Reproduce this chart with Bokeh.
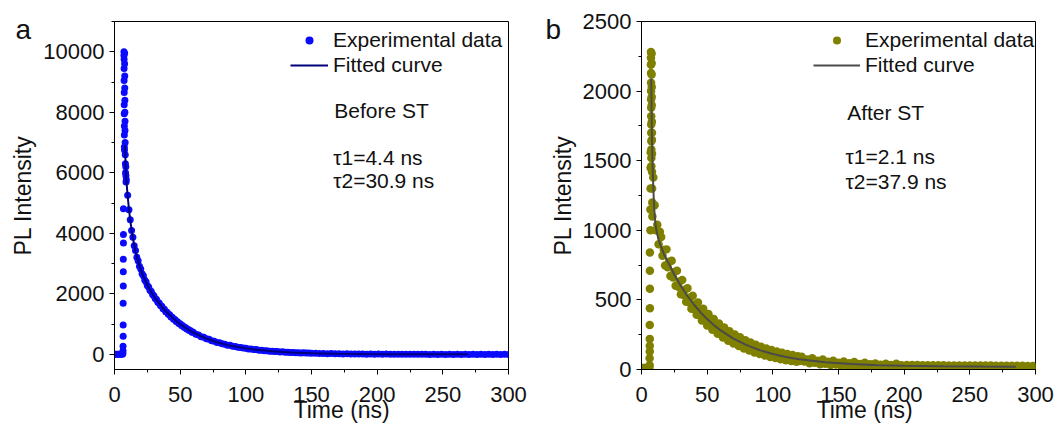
from bokeh.plotting import figure
from bokeh.layouts import row
from bokeh.models import Legend, LegendItem, Label, SingleIntervalTicker, Range1d, Title
from bokeh.embed import file_html
from bokeh.resources import INLINE

FONT = "Liberation Sans"

# ---------------- Panel a : Before ST ----------------
a_base_t = [0, 1, 2, 3, 4, 5, 6]
a_base_v = [0, 0, 0, 0, 0, 0, 0]
a_rise_t = [6.4, 6.5, 6.5, 6.6, 6.6, 6.6, 6.7, 6.7, 6.7, 6.8, 6.8, 6.8]
a_rise_v = [30, 120, 270, 600, 970, 1690, 2260, 2730, 3140, 3680, 3960, 4810]
a_peak_t = [7.2, 7.2, 7.3, 7.3, 7.3, 7.4, 7.4, 7.4, 7.5, 7.5, 7.5, 7.6,
            7.7, 7.7, 7.8, 7.8, 7.9, 7.9, 8.0, 8.0, 8.1,
            8.2, 8.3, 8.4, 8.6, 8.7, 8.8]
a_peak_v = [10000, 9880, 9750, 9450, 9050, 8650, 8250, 7950, 7550, 7250, 6850, 6750,
            9950, 9600, 9200, 8800, 8400, 8000, 7700, 7400, 7000,
            6600, 6300, 6000, 6200, 5900, 5700]
a_decay_t = list(range(9, 61)) + list(range(62, 151, 2)) + list(range(153, 301, 3))
a_decay_v = [5770, 5260, 4780, 4450, 4095, 3870, 3590, 3430, 3210, 3090, 2910, 2820, 2665,
             2595, 2455, 2400, 2275, 2230, 2118, 2080, 1975, 1940, 1843, 1815, 1722, 1700,
             1612, 1590, 1508, 1490, 1412, 1396, 1323, 1308, 1238, 1226, 1160, 1150, 1087,
             1078, 1019, 1011, 954, 947, 894, 889, 838, 833, 785, 781, 735, 733,
             668, 643, 586, 566, 514, 498, 452, 437, 396, 385, 348, 338, 305, 298, 268, 261,
             235, 230, 207, 202, 181, 178, 159, 157, 140, 138, 123, 121, 107, 106, 94, 94,
             82, 83, 72, 73, 63, 64, 55, 57, 48, 50, 42, 44, 37,
             38, 29, 32, 24, 27, 19, 23, 15, 19, 12, 16, 9, 14, 7, 12, 5, 10, 4, 9, 3,
             8, 2, 7, 1, 7, 0, 6, 0, 6, -1, 5, -1, 5, -1, 4, -2, 4, -2, 4, -2,
             3, -2, 3, -3, 3, -3, 3, -3, 3, -3]
a_fit_t = [8.0, 8.5, 9, 10, 11, 12, 13, 14, 15, 16, 18, 20, 22, 25, 28, 32, 36, 40, 45, 50,
           55, 60, 70, 80, 90, 100, 110, 120, 135, 150, 170, 190, 210, 230, 250, 269]
a_fit_v = [6900, 6200, 5770, 5241, 4800, 4429, 4114, 3845, 3612, 3409, 3071, 2801, 2576,
           2295, 2062, 1798, 1575, 1382, 1174, 998, 849, 722, 522, 378, 273, 198, 143, 103,
           64, 39, 21, 11, 6, 3, 2, 1]

# ---------------- Panel b : After ST ----------------
b_base_t = [0, 1, 2, 3, 4, 5, 6]
b_base_v = [10, 10, 10, 10, 10, 10, 10]
b_rise_t = [6.2, 6.2, 6.3, 6.3, 6.3, 6.3, 6.4, 6.4, 6.4, 6.4, 6.8, 6.8, 6.9, 6.9, 7.0]
b_rise_v = [30, 80, 130, 170, 220, 320, 440, 580, 710, 840, 1000, 1150, 1300, 1450, 1560]
b_peak_t = [7.2, 7.2, 7.2, 7.3, 7.3, 7.3, 7.3, 7.4, 7.4, 7.4, 7.4, 7.5, 7.5, 7.5, 7.5,
            7.7, 7.7, 7.7, 7.8, 7.8, 7.8, 7.9, 7.9, 8.0, 8.0, 8.1, 8.2, 8.3]
b_peak_v = [2280, 2240, 2190, 2130, 2060, 2000, 1940, 1880, 1820, 1760, 1700, 1640, 1580,
            1520, 1460, 2270, 2200, 2120, 2030, 1960, 1900, 1780, 1650, 1550, 1420, 1300,
            1200, 1100]
b_decay_t = list(range(8, 121)) + list(range(122, 301, 2))
b_decay_v = [1700, 1380, 1180, 1000, 1040, 900, 990,
             952, 817, 858, 747, 863, 735, 775, 671, 782, 661,
             701, 602, 709, 595, 633, 541, 643, 536, 573, 486,
             583, 483, 518, 437, 529, 434, 469, 393, 482, 392,
             425, 352, 437, 353, 385, 316, 398, 318, 349, 285,
             363, 287, 317, 256, 331, 259, 288, 230, 302, 233,
             261, 207, 275, 211, 238, 186, 252, 190, 216, 168,
             231, 172, 198, 151, 211, 156, 180, 136, 194, 141,
             165, 122, 178, 129, 151, 111, 164, 116, 138, 100,
             151, 106, 127, 90, 140, 96, 117, 82, 130, 88,
             107, 74, 120, 80, 99, 67, 111, 74, 92, 61,
             104, 67, 84, 56, 96, 61,
             91, 57, 72, 45, 80, 48, 62, 37, 72, 42, 55, 32, 63, 36, 49, 27, 58, 32, 45, 24,
             53, 28, 40, 21, 48, 25, 37, 18, 44, 23, 34, 17, 42, 21, 32, 15, 41, 20, 31, 15,
             33, 19, 32, 18, 32, 18, 31, 17, 31, 17, 30, 17, 30, 16, 30, 16, 29, 16, 29, 15,
             29, 15, 29, 15, 28, 15, 28, 14, 28, 14, 28, 14, 28, 14, 27, 14, 27, 14, 27, 14,
             27, 13, 27, 13, 27, 13, 26, 13, 26, 13]
b_fit_t = [7.4, 7.7, 8.0, 8.5, 9.0, 9.5, 10, 10.5, 11, 12, 13, 14, 15, 17, 20, 25, 30, 35,
           40, 45, 50, 55, 60, 70, 80, 90, 100, 110, 120, 140, 160, 180, 200, 230, 260, 285]
b_fit_v = [2090, 1850, 1650, 1450, 1300, 1190, 1110, 1060, 1020, 970, 935, 905, 880, 830,
           775, 682, 600, 528, 465, 410, 362, 320, 283, 222, 175, 139, 111, 90, 74, 52, 39,
           31, 27, 23, 21, 20]

legend_labels = ["Experimental data", "Fitted curve"]
x_ticks_interval = 50
TXT = "#111111"


def style(p, y_interval):
    p.title.visible = False
    p.xgrid.visible = False
    p.ygrid.visible = False
    p.outline_line_color = "black"
    p.outline_line_width = 1
    p.xaxis.ticker = SingleIntervalTicker(interval=x_ticks_interval, num_minor_ticks=2)
    p.yaxis.ticker = SingleIntervalTicker(interval=y_interval, num_minor_ticks=2)
    for ax in (p.xaxis, p.yaxis):
        ax.axis_line_color = "black"
        ax.major_tick_line_color = "black"
        ax.minor_tick_line_color = "black"
        ax.major_tick_out = 5
        ax.major_tick_in = 0
        ax.minor_tick_out = 3
        ax.minor_tick_in = 0
        ax.major_label_text_font = FONT
        ax.major_label_text_font_size = "22px"
        ax.major_label_text_color = TXT
        ax.major_label_standoff = 5
        ax.axis_label_text_font = FONT
        ax.axis_label_text_font_size = "23px"
        ax.axis_label_text_font_style = "normal"
        ax.axis_label_text_color = TXT
    p.xaxis.major_label_standoff = 12
    p.yaxis.axis_label = "PL Intensity"
    p.yaxis.axis_label_standoff = 4


def add_legend(p, r_sc, r_ln, loc, gw, standoff):
    lg = Legend(items=[LegendItem(label=legend_labels[0], renderers=[r_sc]),
                       LegendItem(label=legend_labels[1], renderers=[r_ln])],
                location=loc, padding=0, margin=0, spacing=1,
                glyph_width=gw, glyph_height=20, label_height=20,
                label_standoff=standoff,
                label_text_font=FONT, label_text_font_size="21px",
                label_text_color=TXT,
                border_line_alpha=0, background_fill_alpha=0)
    p.add_layout(lg)


def add_text(p, x, y, text):
    p.add_layout(Label(x=x, y=y, text=text, text_font=FONT, text_font_size="21px",
                       text_color=TXT, text_baseline="alphabetic", text_align="left"))


def outer_texts(p, letter, letter_offset, time_offset):
    # panel letter: nearest to the frame in the "above" stack
    p.add_layout(Title(text=letter, align="left", offset=letter_offset,
                       vertical_align="bottom", standoff=-46, text_font=FONT,
                       text_font_size="28px", text_font_style="normal",
                       text_color=TXT), "above")
    # x axis title, pushed down to the bottom edge of the canvas
    p.add_layout(Title(text="Time (ns)", align="left", offset=time_offset,
                       vertical_align="bottom", standoff=-802, text_font=FONT,
                       text_font_size="23px", text_font_style="normal",
                       text_color=TXT), "above")


# ---- figure a ----
p1 = figure(width=530, height=423, x_range=Range1d(0, 300), y_range=Range1d(-500, 11000),
            output_backend="svg", toolbar_location=None,
            min_border_left=114, min_border_right=22, min_border_top=21, min_border_bottom=54)
style(p1, 2000)
a_t = a_base_t + a_rise_t + a_peak_t + a_decay_t
a_v = a_base_v + a_rise_v + a_peak_v + a_decay_v
sc1 = p1.scatter(a_t, a_v, size=7, color="#0a0aff", line_color=None)
ln1 = p1.line(a_fit_t, a_fit_v, line_color="#00007a", line_width=2)
add_legend(p1, sc1, ln1, (176, 292), 38, 5)
add_text(p1, 167.3, 8046, "Before ST")
add_text(p1, 166.5, 6504, "\u03c41=4.4 ns")
add_text(p1, 166.5, 5731, "\u03c42=30.9 ns")
outer_texts(p1, "a", -99, 179)

# ---- figure b ----
p2 = figure(width=526, height=423, x_range=Range1d(0, 300), y_range=Range1d(0, 2500),
            output_backend="svg", toolbar_location=None,
            min_border_left=111, min_border_right=21, min_border_top=21, min_border_bottom=54)
style(p2, 500)
b_t = b_base_t + b_rise_t + b_peak_t + b_decay_t
b_v = b_base_v + b_rise_v + b_peak_v + b_decay_v
sc2 = p2.scatter(b_t, b_v, size=8.5, color="#808000", line_color=None)
ln2 = p2.line(b_fit_t, b_fit_v, line_color="#4a4a4a", line_width=2)
add_legend(p2, sc2, ln2, (172, 292), 47, 5)
add_text(p2, 156.6, 1844, "After ST")
add_text(p2, 155.3, 1532, "\u03c41=2.1 ns")
add_text(p2, 155.3, 1353, "\u03c42=37.9 ns")
outer_texts(p2, "b", -96, 175)

layout = row(p1, p2)
open("out.html", "w").write(file_html(layout, INLINE))
